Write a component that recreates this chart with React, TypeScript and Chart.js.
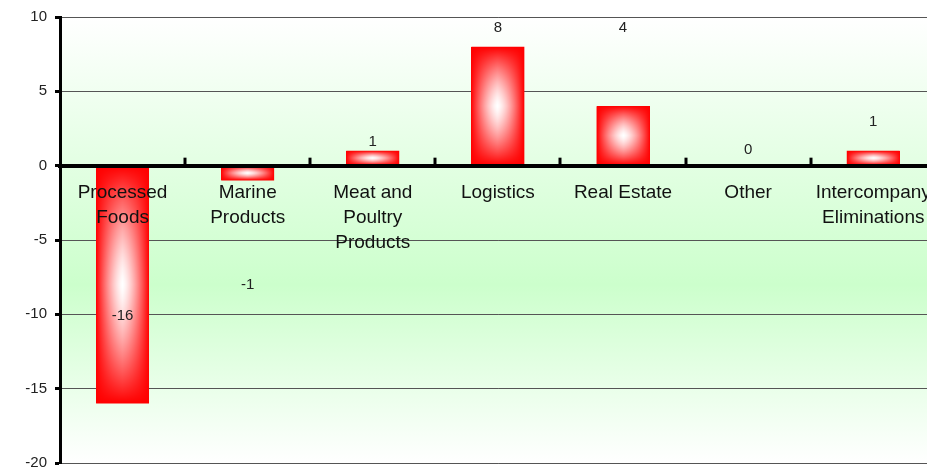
import { useEffect, useRef } from 'react';
import { Chart, registerables } from 'chart.js';

Chart.register(...registerables);

const categories: (string | string[])[] = [
  ['Processed', 'Foods'],
  ['Marine', 'Products'],
  ['Meat and', 'Poultry', 'Products'],
  'Logistics',
  'Real Estate',
  'Other',
  ['Intercompany', 'Eliminations'],
];
const values = [-16, -1, 1, 8, 4, 0, 1];
const labelTexts = ['-16', '-1', '1', '8', '4', '0', '1'];
// value-axis position where each data label sits
const labelAnchors = [-10.1, -8.0, 1.6, 9.26, 9.26, 1.06, 2.94];
const yMin = -20;
const yMax = 10;
const yStep = 5;

const NARROW = "'Liberation Sans Narrow', 'Liberation Sans', Arial, sans-serif";
const SANS = "'Liberation Sans', Arial, sans-serif";

const bgPlugin = {
  id: 'bgGradient',
  beforeDraw(chart: any) {
    const { ctx, chartArea: a } = chart;
    const g = ctx.createLinearGradient(0, a.top, 0, a.bottom);
    g.addColorStop(0, '#ffffff');
    g.addColorStop(0.6, '#ccffcc');
    g.addColorStop(1, '#ffffff');
    ctx.save();
    ctx.fillStyle = g;
    ctx.fillRect(a.left, a.top, a.right - a.left, a.bottom - a.top);
    ctx.restore();
  },
};

const barGradientPlugin = {
  id: 'barGradient',
  afterDatasetsDraw(chart: any) {
    const { ctx } = chart;
    const meta = chart.getDatasetMeta(0);
    meta.data.forEach((el: any) => {
      const p = el.getProps(['x', 'y', 'base', 'width'], true);
      const w = Math.round(p.width);
      const top = Math.round(Math.min(p.y, p.base));
      const h = Math.round(Math.abs(p.base - p.y));
      if (h < 1 || w < 1) return;
      const left = Math.round(p.x - p.width / 2);
      const off = document.createElement('canvas');
      off.width = w;
      off.height = h;
      const octx = off.getContext('2d')!;
      const img = octx.createImageData(w, h);
      const hw = w / 2;
      const hh = h / 2;
      for (let j = 0; j < h; j++) {
        for (let i = 0; i < w; i++) {
          const dx = Math.abs(i + 0.5 - hw) / hw;
          const dy = Math.abs(j + 0.5 - hh) / hh;
          const k = (1 - Math.pow(dx, 1.4)) * (1 - Math.pow(dy, 1.4));
          const idx = (j * w + i) * 4;
          img.data[idx] = 255;
          img.data[idx + 1] = Math.round(255 * k);
          img.data[idx + 2] = Math.round(255 * k);
          img.data[idx + 3] = 255;
        }
      }
      octx.putImageData(img, 0, 0);
      ctx.drawImage(off, left, top);
    });
  },
};

const overlayPlugin = {
  id: 'overlay',
  afterDraw(chart: any) {
    const { ctx } = chart;
    const xs = chart.scales.x;
    const ys = chart.scales.y;
    const zeroY = ys.getPixelForValue(0);
    ctx.save();
    // category boundary tick marks pointing up
    ctx.strokeStyle = '#000';
    ctx.lineWidth = 3;
    for (let i = 1; i < categories.length; i++) {
      const x = Math.round((xs.getPixelForValue(i - 1) + xs.getPixelForValue(i)) / 2);
      ctx.beginPath();
      ctx.moveTo(x, zeroY);
      ctx.lineTo(x, zeroY - 8);
      ctx.stroke();
    }
    // data labels
    ctx.fillStyle = '#222';
    ctx.font = `15px ${NARROW}`;
    ctx.textAlign = 'center';
    ctx.textBaseline = 'middle';
    labelTexts.forEach((t, i) => {
      ctx.fillText(t, xs.getPixelForValue(i), ys.getPixelForValue(labelAnchors[i]));
    });
    ctx.restore();
  },
};

export default function App() {
  const ref = useRef<HTMLCanvasElement>(null);
  useEffect(() => {
    if (!ref.current) return;
    const chart = new Chart(ref.current, {
      type: 'bar',
      data: {
        labels: categories as any,
        datasets: [
          {
            data: values,
            backgroundColor: '#ff0000',
            borderWidth: 0,
            barPercentage: 0.423,
            categoryPercentage: 1,
          },
        ],
      },
      options: {
        animation: false,
        responsive: false,
        devicePixelRatio: 1,
        layout: { padding: { top: 16, right: 3, bottom: 6, left: 0 } },
        plugins: {
          legend: { display: false },
          title: { display: false },
          tooltip: { enabled: false },
        },
        scales: {
          x: {
            position: { y: 0 } as any,
            offset: true,
            grid: { display: false, drawTicks: false },
            border: { display: true, color: '#000', width: 4, z: 1 } as any,
            ticks: {
              z: 1,
              autoSkip: false,
              maxRotation: 0,
              minRotation: 0,
              padding: 15,
              color: '#111',
              font: { family: SANS, size: 19, lineHeight: 1.3 },
            },
          },
          y: {
            min: yMin,
            max: yMax,
            afterFit(scale: any) {
              scale.width = 60;
            },
            ticks: {
              stepSize: yStep,
              padding: 8,
              color: '#222',
              font: { family: NARROW, size: 15 },
            },
            grid: {
              color: '#555',
              lineWidth: 1,
              drawTicks: true,
              tickLength: 5,
              tickColor: '#000',
              tickWidth: 3,
            },
            border: { display: true, color: '#000', width: 3 },
          },
        },
      },
      plugins: [bgPlugin, barGradientPlugin, overlayPlugin],
    });
    return () => chart.destroy();
  }, []);
  return (
    <div
      style={{
        position: 'fixed',
        left: 0,
        top: 0,
        width: 927,
        height: 468,
        overflow: 'hidden',
        background: '#fff',
      }}
    >
      <canvas ref={ref} width={946} height={480} style={{ width: 946, height: 480, display: 'block' }} />
    </div>
  );
}
